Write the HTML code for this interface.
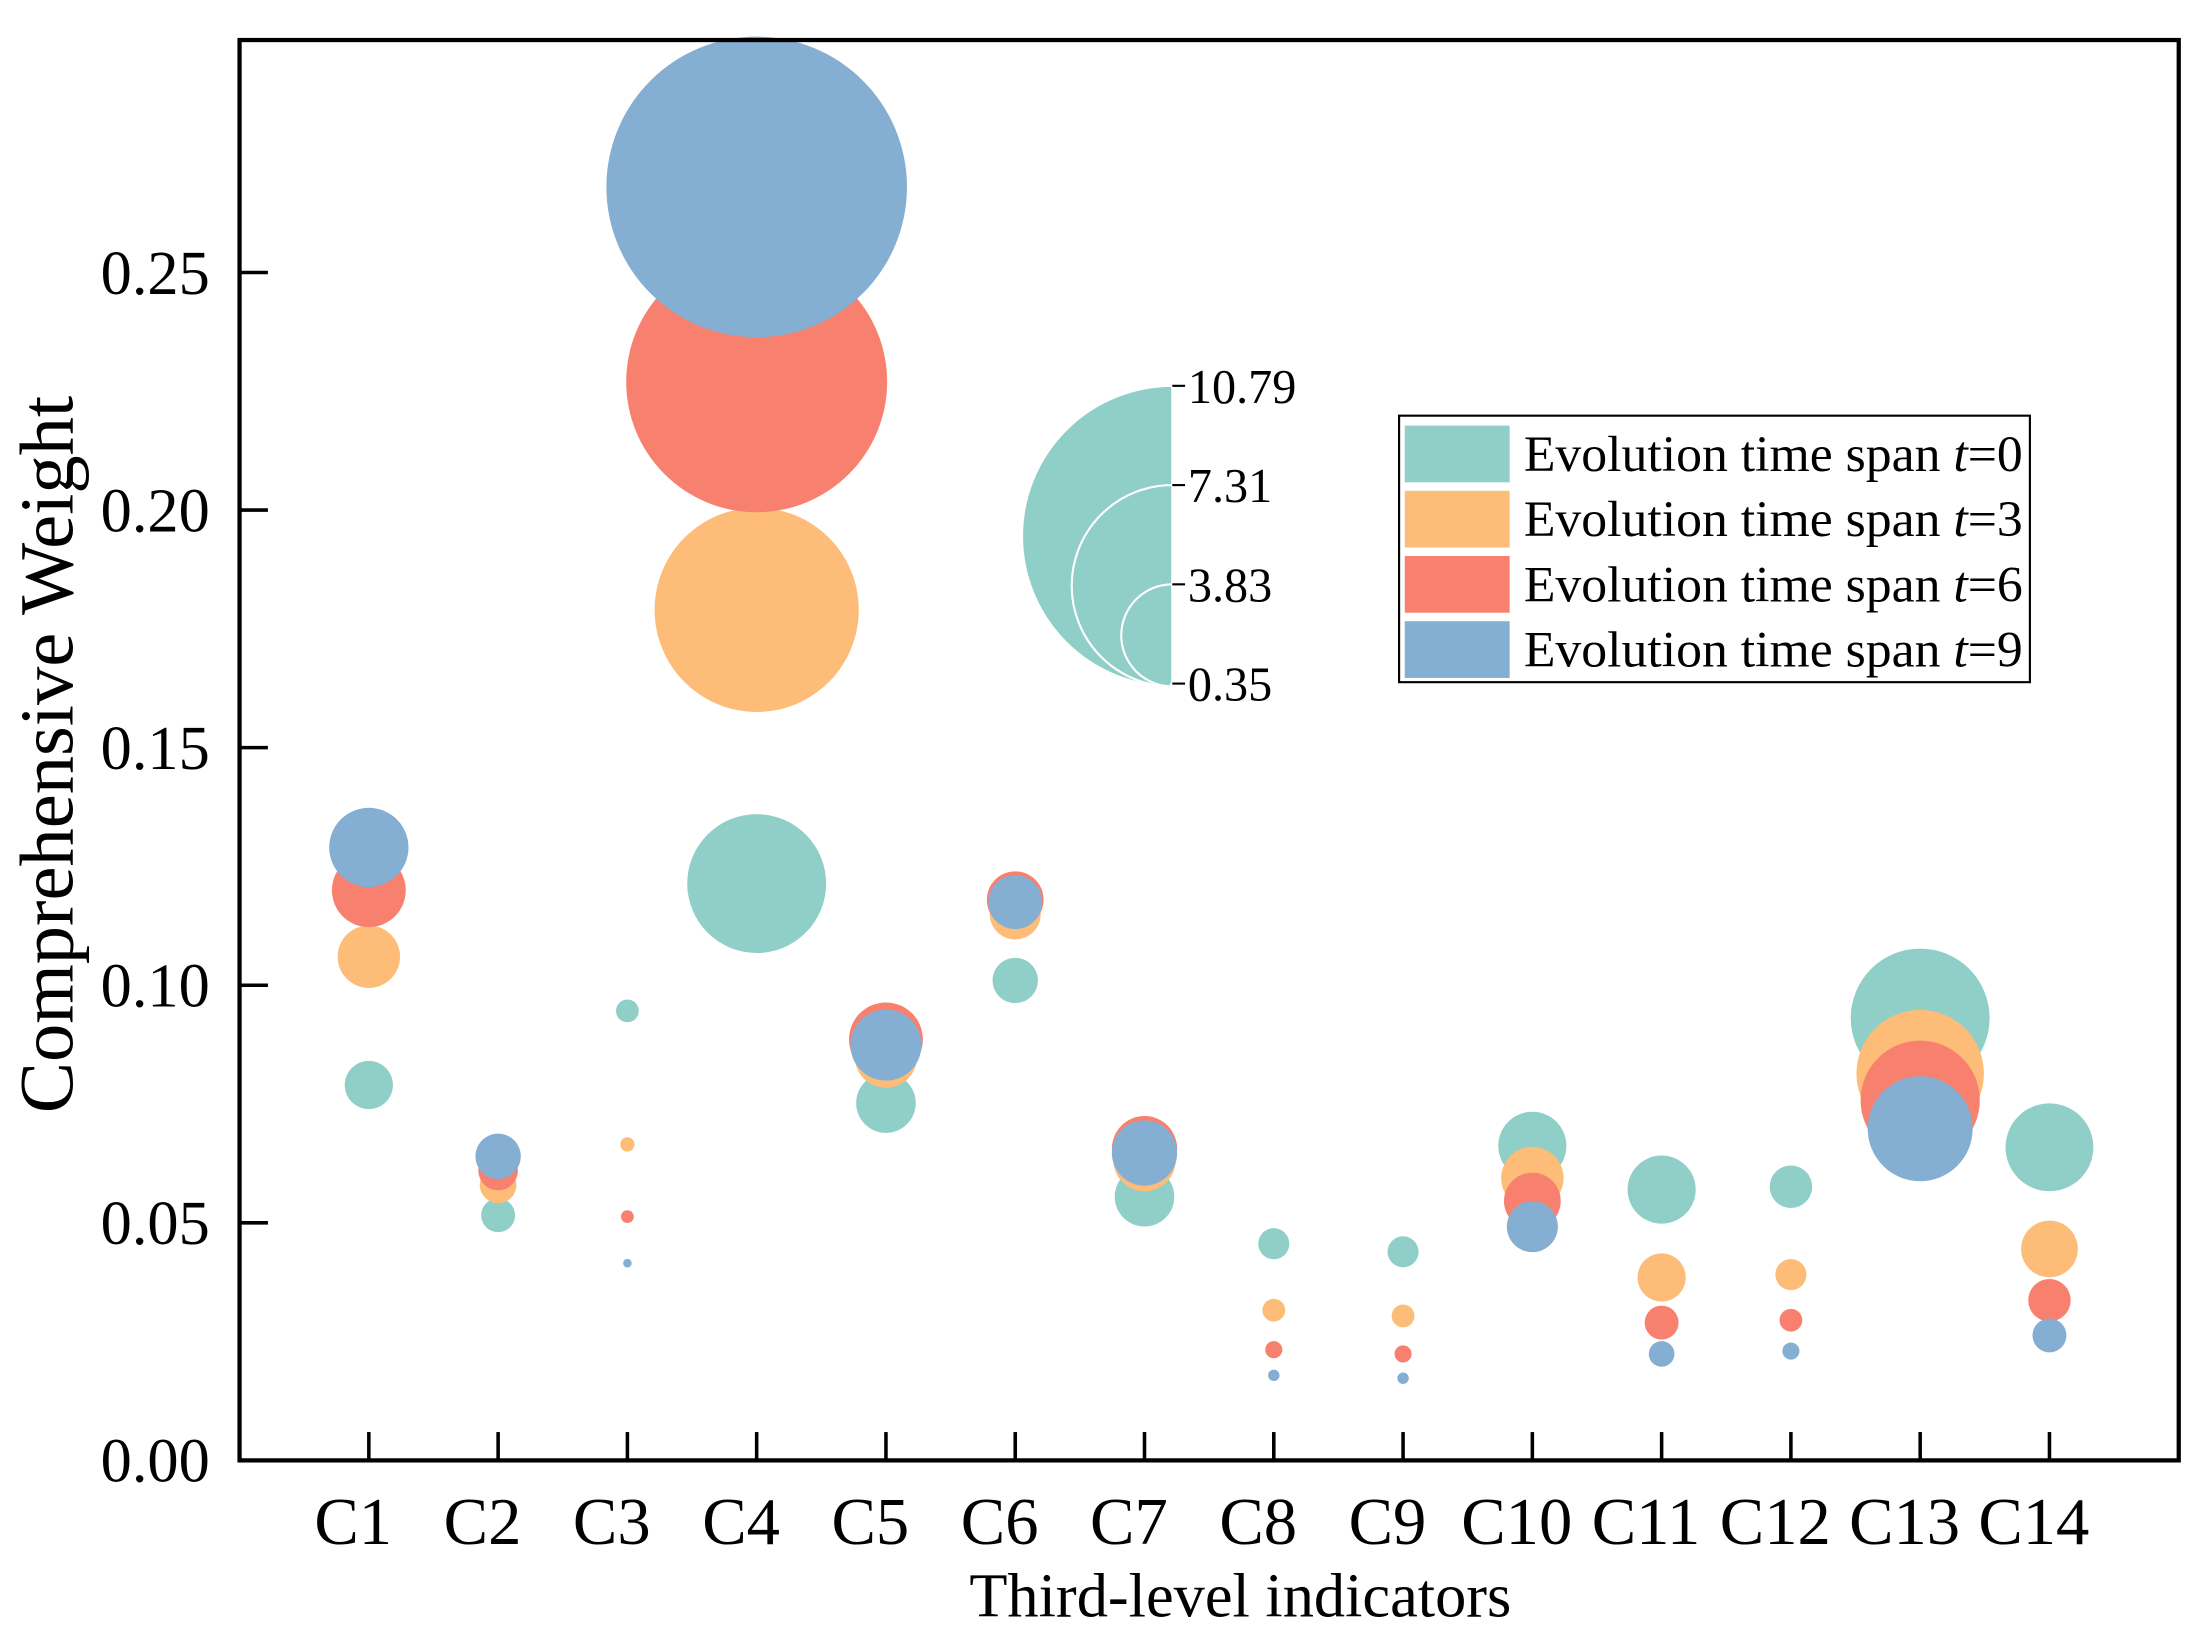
<!DOCTYPE html>
<html><head><meta charset="utf-8"><style>
html,body{margin:0;padding:0;background:#fff;}
svg{display:block;font-family:"Liberation Serif",serif;}
</style></head><body>
<svg id="chart" width="2200" height="1628" viewBox="0 0 1552 1148" xmlns="http://www.w3.org/2000/svg">
<rect x="0" y="0" width="1552" height="1148" fill="#fff"/>
<g id="bubbles"></g>
<g id="axes"></g>
<g id="sizeLegend"></g>
<g id="legend"></g>
<text x="875" y="1140" font-size="44" text-anchor="middle">Third-level indicators</text>
<text transform="translate(51,532) rotate(-90)" font-size="54" text-anchor="middle">Comprehensive Weight</text>
</svg>
<script>
const categories = ["C1","C2","C3","C4","C5","C6","C7","C8","C9","C10","C11","C12","C13","C14"];
const seriesNames = ["t=0","t=3","t=6","t=9"];
const weightT0 = [0.079,0.0516,0.0946,0.1214,0.0752,0.101,0.0555,0.0456,0.0439,0.0662,0.057,0.0576,0.0931,0.0659];
const weightT3 = [0.106,0.058,0.0665,0.179,0.085,0.115,0.0632,0.0316,0.0304,0.0594,0.0385,0.0391,0.0814,0.0445];
const weightT6 = [0.120,0.061,0.0513,0.227,0.0886,0.118,0.0656,0.0233,0.0224,0.0546,0.029,0.0295,0.0758,0.0337];
const weightT9 = [0.129,0.064,0.0415,0.268,0.0874,0.1175,0.0647,0.0179,0.0173,0.0492,0.0224,0.023,0.0698,0.0263];
const sizeT0 = [1.94,1.44,1.05,5.12,2.34,1.84,2.34,1.34,1.34,2.64,2.64,1.74,5.12,3.33];
const sizeT3 = [2.44,1.54,0.75,7.41,2.44,2.04,2.44,1.05,1.05,2.44,1.94,1.34,4.72,2.24];
const sizeT6 = [2.84,1.64,0.70,9.40,2.84,2.24,2.54,0.85,0.85,2.24,1.44,1.05,4.43,1.74];
const sizeT9 = [3.03,1.84,0.55,10.79,2.74,2.14,2.54,0.65,0.65,2.04,1.15,0.85,3.93,1.44];
const yTicks = [0,0.05,0.10,0.15,0.20,0.25];
const sizeTicks = [10.79,7.31,3.83,0.35];
const colors = ["#8fcfc8","#fdbd78","#f8806f","#84aed2"];

const NS="http://www.w3.org/2000/svg";
const L=169,R=1537,T=28,B=1030;
const xScale=i=>L+(i+1)*(R-L)/15;
const yScale=v=>B-v*(B-192)/0.25;
const rScale=s=>1+10.06*(s-0.35);
function mk(tag,attrs,parent){const e=document.createElementNS(NS,tag);for(const k in attrs)e.setAttribute(k,attrs[k]);parent.appendChild(e);return e;}

const bub=document.getElementById('bubbles');
const W=[weightT0,weightT3,weightT6,weightT9],S=[sizeT0,sizeT3,sizeT6,sizeT9];
for(let s=0;s<4;s++){for(let i=0;i<categories.length;i++){
  const c=mk('circle',{cx:xScale(i),cy:yScale(W[s][i]),r:Math.max(1,rScale(S[s][i])),fill:colors[s]},bub);
  
  
}}

const ax=document.getElementById('axes');
const frame=mk('rect',{x:L,y:T,width:R-L,height:B-T,fill:'none',stroke:'#000','stroke-width':3},ax);


yTicks.forEach(v=>{
  const y=yScale(v);
  const t=mk('line',{x1:L,x2:L+20,y1:y,y2:y,stroke:'#000','stroke-width':2.5},ax);
  
  
  const tx=mk('text',{x:148,y:y+15,'font-size':44,'text-anchor':'end'},ax);
  tx.textContent=v.toFixed(2);
  
  
});
categories.forEach((c,i)=>{
  const x=xScale(i);
  const t=mk('line',{x1:x,x2:x,y1:B,y2:B-20,stroke:'#000','stroke-width':2.5},ax);
  
  
  const tx=mk('text',{x:x-11,y:1089,'font-size':47,'text-anchor':'middle'},ax);
  tx.textContent=c;
  
  
});

const sl=document.getElementById('sizeLegend');
const ex=827,base=484;
sizeTicks.forEach(s=>{
  const r=rScale(s);
  const p=mk('path',{d:`M${ex},${base} A${r},${r} 0 0 1 ${ex},${base-2*r} Z`,fill:'#8fcfc8',stroke:'#fff','stroke-width':1.5},sl);
  
  
  const ty=base-2*r;
  const t=mk('line',{x1:ex,x2:ex+9,y1:ty,y2:ty,stroke:'#000','stroke-width':1.5},sl);
  
  
  const tx=mk('text',{x:ex+11,y:ty+12,'font-size':34},sl);
  tx.textContent=s.toFixed(2);
  
  
});

const lg=document.getElementById('legend');
const box=mk('rect',{x:987,y:293,width:445,height:188,fill:'#fff',stroke:'#000','stroke-width':1.5},lg);


seriesNames.forEach((n,k)=>{
  const cy=320+k*46;
  const sw=mk('rect',{x:991,y:cy-20,width:74,height:40,fill:colors[k]},lg);
  
  
  const tx=mk('text',{x:1075,y:cy+12,'font-size':36,textLength:352,lengthAdjust:'spacingAndGlyphs'},lg);
  tx.innerHTML='Evolution time span <tspan font-style="italic">t</tspan>='+n.slice(2);
  
  
});
</script>
</body></html>
